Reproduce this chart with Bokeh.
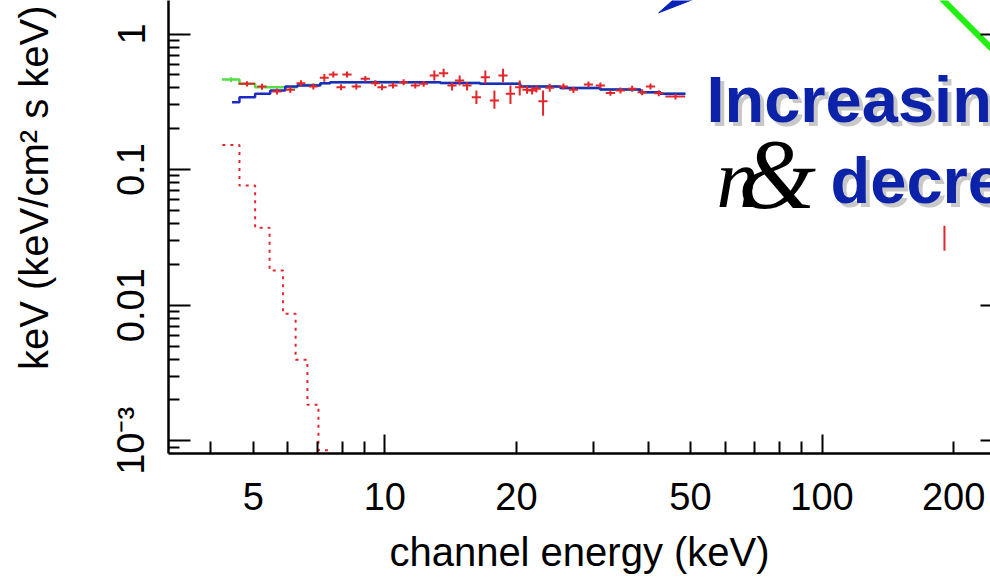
import math
from bokeh.plotting import figure
from bokeh.models import (Range1d, LogAxis, FixedTicker, CustomJSTickFormatter, Label, Title)
from bokeh.embed import file_html
from bokeh.resources import INLINE

# ---------------- data ----------------
# red data crosses: energy (keV), half bin width, value and error range
red_x = [4.838, 5.236, 5.666, 6.079, 6.43, 6.862, 7.271, 7.624, 7.94, 8.195, 8.606,
         9.024, 9.51, 9.854, 10.44, 11.04, 11.74, 12.27, 12.98, 13.63, 14.25, 14.83,
         15.42, 16.2, 16.98, 17.81, 18.64, 19.38, 20.35, 21.15, 21.72, 22.22, 23.01,
         23.83, 25.62, 27.01, 29.23, 31.12, 32.81, 34.59, 36.79, 38.78, 40.52, 42.32,
         46.22, 190.6]
red_xerr = [0.21, 0.13, 0.14, 0.15, 0.15, 0.16, 0.17, 0.18, 0.19, 0.2, 0.21,
            0.22, 0.23, 0.24, 0.25, 0.26, 0.28, 0.29, 0.31, 0.33, 0.34, 0.36,
            0.37, 0.39, 0.41, 0.43, 0.45, 0.47, 0.49, 0.51, 0.52, 0.53, 0.55,
            0.57, 0.61, 0.65, 0.7, 0.75, 0.79, 0.83, 0.88, 0.93, 0.97, 1.02,
            2.4, 0.0]
red_y = [0.429, 0.410, 0.376, 0.3875, 0.4334, 0.410, 0.475, 0.5025, 0.405, 0.5025, 0.410,
         0.467, 0.4334, 0.405, 0.417, 0.441, 0.417, 0.429, 0.494, 0.5136, 0.417, 0.4536,
         0.417, 0.3417, 0.48, 0.323, 0.494, 0.362, 0.405, 0.3875, 0.383, 0.394, 0.319,
         0.401, 0.41, 0.3875, 0.424, 0.417, 0.368, 0.383, 0.394, 0.372, 0.41, 0.366,
         0.3456, 0.0312]
red_ylo = [0.410, 0.3875, 0.358, 0.368, 0.412, 0.390, 0.444, 0.478, 0.385, 0.478, 0.390,
           0.444, 0.412, 0.385, 0.396, 0.419, 0.396, 0.408, 0.4536, 0.48, 0.383, 0.417,
           0.383, 0.3045, 0.429, 0.281, 0.441, 0.305, 0.352, 0.362, 0.358, 0.37, 0.25,
           0.375, 0.39, 0.368, 0.403, 0.396, 0.35, 0.364, 0.375, 0.354, 0.39, 0.348,
           0.329, 0.0252]
red_yhi = [0.449, 0.429, 0.396, 0.408, 0.456, 0.431, 0.508, 0.529, 0.426, 0.529, 0.431,
           0.491, 0.456, 0.426, 0.439, 0.464, 0.439, 0.451, 0.538, 0.5535, 0.441, 0.494,
           0.441, 0.383, 0.5375, 0.383, 0.5535, 0.417, 0.4536, 0.415, 0.41, 0.42, 0.383,
           0.43, 0.431, 0.408, 0.446, 0.439, 0.387, 0.403, 0.415, 0.391, 0.431, 0.385,
           0.363, 0.0386]

# green step (bin edges and values) and its single visible error bar
green_edges = [4.24, 4.65, 5.05, 5.47, 6.31, 7.12, 7.5, 8.8, 10.8, 13.4, 16.5, 20.4,
               25.2, 31.1, 38.4, 42.7, 48.7]
green_vals = [0.4615, 0.429, 0.405, 0.405, 0.42, 0.433, 0.44, 0.442, 0.44, 0.436, 0.43,
              0.41, 0.40, 0.39, 0.372, 0.362]
green_err_x = [4.45]
green_err_lo = [0.441]
green_err_hi = [0.48]

# blue step
blue_edges = [4.47, 4.65, 5.05, 5.47, 5.92, 6.31, 7.12, 7.5, 8.8, 10.8, 13.4, 16.5,
              20.4, 25.2, 31.1, 38.4, 42.7, 48.7]
blue_vals = [0.314, 0.342, 0.362, 0.383, 0.41, 0.417, 0.433, 0.441, 0.441, 0.44, 0.436,
             0.43, 0.41, 0.40, 0.39, 0.372, 0.362]

# red dotted step (steeply falling component)
reddot_edges = [4.25, 4.65, 5.05, 5.45, 5.85, 6.25, 6.65, 7.05, 7.45, 7.85]
reddot_vals = [0.152, 0.0762, 0.0373, 0.018, 0.00865, 0.00396, 0.001845, 0.00085, 0.0003]

# axis ticks
x_tick_values = [5, 10, 20, 50, 100, 200]
x_tick_labels = ["5", "10", "20", "50", "100", "200"]
x_long_ticks = [10, 100]
x_short_ticks = [4, 5, 6, 7, 8, 9, 20, 30, 40, 50, 60, 70, 80, 90, 200]
y_tick_values = [0.001, 0.01, 0.1, 1]
y_tick_labels = ["10\u207b\u00b3", "0.01", "0.1", "1"]

# annotations (slide overlay)
arrow_x = [42.32, 51.2, 65.6]
arrow_y = [1.434, 2.482, 2.482]
green_bar_x = [177.1, 256.2]
green_bar_y = [2.204, 0.671]
title_line1 = "Increasing"
title_line2 = "decreasing"
line1_pos = (54.4, 0.2148)
line2_pos = (104.6, 0.0571)
amp_pos = (64.3, 0.0524)
n_pos = (57.37, 0.05243)

# ---------------- figure ----------------
RED = "#e2262a"
BLUE = "#1d2bc4"
GREEN = "#55dd44"
TXT_BLUE = "#0b22a9"

p = figure(width=990, height=578, x_axis_type="log", y_axis_type="log",
           x_range=Range1d(3.20, 242.9), y_range=Range1d(8.06e-4, 1.767),
           output_backend="svg", toolbar_location=None,
           min_border_left=168, min_border_right=0, min_border_top=0,
           min_border_bottom=125)
p.outline_line_color = None
p.xgrid.visible = False
p.ygrid.visible = False
p.background_fill_color = "white"
p.border_fill_color = "white"

fmt_code = """
let best = 0, bd = 1e9;
for (let i = 0; i < tvals.length; i++) {
  const d = Math.abs(Math.log10(tick) - Math.log10(tvals[i]));
  if (d < bd) { bd = d; best = i; }
}
return tlabs[best];
"""

FONT = "Liberation Sans"

# bottom axis 1: tick marks only
xa = p.xaxis[0]
xa.ticker = FixedTicker(ticks=x_long_ticks, minor_ticks=x_short_ticks)
xa.formatter = CustomJSTickFormatter(code="return ' ';")
xa.major_tick_in = 19
xa.major_tick_out = 0
xa.minor_tick_in = 12
xa.minor_tick_out = 0
xa.major_label_text_font_size = "1px"
xa.major_label_text_alpha = 0
xa.major_label_standoff = 0
xa.axis_line_width = 2.5
xa.major_tick_line_width = 2
xa.minor_tick_line_width = 2

# bottom axis 2: labels only
xb = LogAxis(ticker=FixedTicker(ticks=x_tick_values, minor_ticks=[]),
             formatter=CustomJSTickFormatter(args=dict(tvals=x_tick_values, tlabs=x_tick_labels), code=fmt_code))
xb.axis_line_color = None
xb.major_tick_line_color = None
xb.minor_tick_line_color = None
xb.major_tick_in = 0
xb.major_tick_out = 0
xb.minor_tick_in = 0
xb.minor_tick_out = 0
xb.major_label_standoff = 29
xb.major_label_text_font = FONT
xb.major_label_text_font_size = "38px"
xb.major_label_text_color = "black"
xb.axis_label = "channel energy (keV)"
xb.axis_label_text_font = FONT
xb.axis_label_text_font_size = "40px"
xb.axis_label_text_font_style = "normal"
xb.axis_label_text_color = "black"
xb.axis_label_standoff = 17
p.add_layout(xb, "below")

# left axis
ya = p.yaxis[0]
y_minor = [8e-4, 9e-4] + [k * 1e-3 for k in range(2, 10)] + [k * 1e-2 for k in range(2, 10)] + [k * 1e-1 for k in range(2, 10)]
ya.ticker = FixedTicker(ticks=y_tick_values, minor_ticks=y_minor)
ya.formatter = CustomJSTickFormatter(args=dict(tvals=y_tick_values, tlabs=y_tick_labels), code=fmt_code)
ya.major_tick_in = 22
ya.major_tick_out = 0
ya.minor_tick_in = 11
ya.minor_tick_out = 0
ya.major_label_orientation = "vertical"
ya.major_label_standoff = 16
ya.major_label_text_font = FONT
ya.major_label_text_font_size = "38px"
ya.major_label_text_color = "black"
ya.axis_line_width = 2.5
ya.major_tick_line_width = 2
ya.minor_tick_line_width = 2
# blank axis label used only as a spacer so the title below sits further left
ya.axis_label = "\u00a0"
ya.axis_label_text_font_size = "20px"
ya.axis_label_standoff = 27

# y axis title, aligned towards the top as in the original
p.add_layout(Title(text="keV (keV/cm\u00b2 s keV)", align="right", offset=5,
                   standoff=0, text_font=FONT, text_font_size="40px",
                   text_font_style="normal", text_color="black"), "left")

# right axis: inward major ticks only
yr = LogAxis(ticker=FixedTicker(ticks=y_tick_values, minor_ticks=[]),
             formatter=CustomJSTickFormatter(code="return ' ';"))
yr.axis_line_color = None
yr.major_tick_in = 10
yr.major_tick_out = 0
yr.minor_tick_in = 0
yr.minor_tick_out = 0
yr.major_label_text_font_size = "1px"
yr.major_label_text_alpha = 0
yr.major_label_standoff = 0
yr.major_tick_line_width = 2
p.add_layout(yr, "right")

# ---------------- marks ----------------
# red dotted step
p.step(reddot_edges, reddot_vals + [reddot_vals[-1]], mode="after",
       line_color=RED, line_width=2, line_dash="3 5")

# green step + error bar
p.step(green_edges, green_vals + [green_vals[-1]], mode="after",
       line_color=GREEN, line_width=2.5)
p.segment(x0=green_err_x, y0=green_err_lo, x1=green_err_x, y1=green_err_hi,
          line_color=GREEN, line_width=2)

# blue step
p.step(blue_edges, blue_vals + [blue_vals[-1]], mode="after",
       line_color=BLUE, line_width=2.5)

# red crosses
x0 = [x - e for x, e in zip(red_x, red_xerr)]
x1 = [x + e for x, e in zip(red_x, red_xerr)]
p.segment(x0=x0, y0=red_y, x1=x1, y1=red_y, line_color=RED, line_width=2)
p.segment(x0=red_x, y0=red_ylo, x1=red_x, y1=red_yhi, line_color=RED, line_width=2)

# overlay annotations
p.patch(arrow_x, arrow_y, fill_color="#0b22b8", line_color="#0b22b8")
p.line(green_bar_x, green_bar_y, line_color="#22f010", line_width=6)

LIFT = 25
for (tx, ty), txt, lift in ((line1_pos, title_line1, LIFT), (line2_pos, title_line2, LIFT - 3)):
    p.add_layout(Label(x=tx, y=ty, text=txt, x_offset=4, y_offset=lift - 4,
                       text_font=FONT, text_font_style="bold", text_font_size="65px",
                       text_color="#c8c8c8", text_baseline="alphabetic"))
    p.add_layout(Label(x=tx, y=ty, text=txt, y_offset=lift,
                       text_font=FONT, text_font_style="bold", text_font_size="65px",
                       text_color=TXT_BLUE, text_baseline="alphabetic"))

p.add_layout(Label(x=n_pos[0], y=n_pos[1], text="n", text_font="Liberation Serif",
                   y_offset=LIFT + 4,
                   text_font_style="italic", text_font_size="84px", text_color="black",
                   text_baseline="alphabetic"))
p.add_layout(Label(x=amp_pos[0], y=amp_pos[1], text="&", text_font="Liberation Serif",
                   y_offset=LIFT + 9,
                   text_font_style="italic", text_font_size="100px", text_color="black",
                   text_baseline="alphabetic"))

open("out.html", "w").write(file_html(p, INLINE))
